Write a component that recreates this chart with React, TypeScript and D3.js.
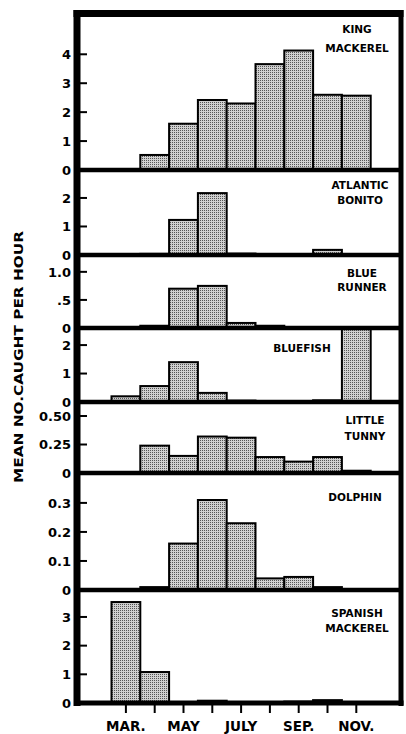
import React from "react";
import * as d3 from "d3";

// ---------- DATA ----------
const months = ["FEB", "MAR", "APR", "MAY", "JUN", "JUL", "AUG", "SEP", "OCT", "NOV", "DEC"];
const tickMonths = ["MAR", "APR", "MAY", "JUN", "JUL", "AUG", "SEP", "OCT", "NOV"];
const labeledMonths = ["MAR", "MAY", "JUL", "SEP", "NOV"];
const monthLabelText = ["MAR.", "MAY", "JULY", "SEP.", "NOV."];

const panelNames = [
  ["KING", "MACKEREL"],
  ["ATLANTIC", "BONITO"],
  ["BLUE", "RUNNER"],
  ["BLUEFISH"],
  ["LITTLE", "TUNNY"],
  ["DOLPHIN"],
  ["SPANISH", "MACKEREL"],
];

const kingMackerel = [0, 0, 0.52, 1.6, 2.42, 2.3, 3.66, 4.13, 2.6, 2.57, 0];
const atlanticBonito = [0, 0, 0.04, 1.23, 2.17, 0.05, 0.02, 0.02, 0.18, 0, 0];
const blueRunner = [0, 0, 0.04, 0.7, 0.75, 0.09, 0.04, 0, 0, 0, 0];
const bluefish = [0, 0.2, 0.56, 1.4, 0.32, 0.05, 0, 0, 0.06, 2.6, 0];
const littleTunny = [0, 0, 0.24, 0.15, 0.32, 0.31, 0.14, 0.1, 0.14, 0.02, 0];
const dolphin = [0, 0, 0.01, 0.16, 0.31, 0.23, 0.04, 0.045, 0.01, 0, 0];
const spanishMackerel = [0, 3.52, 1.08, 0, 0.08, 0, 0, 0.05, 0.1, 0, 0];

const seriesValues = [kingMackerel, atlanticBonito, blueRunner, bluefish, littleTunny, dolphin, spanishMackerel];

const yMaxes = [5.41, 2.98, 1.3, 2.6, 0.623, 0.403, 3.94];
const yTickValues = [
  [0, 1, 2, 3, 4],
  [0, 1, 2],
  [0, 0.5, 1.0],
  [0, 1, 2],
  [0, 0.25, 0.5],
  [0, 0.1, 0.2, 0.3],
  [0, 1, 2, 3],
];
const yTickLabels = [
  ["0", "1", "2", "3", "4"],
  ["0", "1", "2"],
  ["0", ".5", "1.0"],
  ["0", "1", "2"],
  ["0", "0.25", "0.50"],
  ["0", "0.1", "0.2", "0.3"],
  ["0", "1", "2", "3"],
];
const yAxisTitle = "MEAN NO.CAUGHT PER HOUR";

// ---------- LAYOUT ----------
const W = 406;
const H = 734;
const FRAME_LEFT = 77;
const FRAME_RIGHT = 401;
const boundaries = [13.5, 170, 255, 328, 402, 473, 590, 703];
const labelX = [357, 360, 362, 302, 365, 355, 357];
const labelFirstOffset = [19.5, 19, 22, 24, 22, 28, 27];
const labelLineGap = [19, 15, 14, 0, 16, 0, 15];
const FONT = "'DejaVu Sans', sans-serif";

export default function App() {
  const x = d3.scaleBand<string>().domain(months).range([82.7, 399.5]).padding(0);
  const bw = x.bandwidth();

  return (
    <svg
      width={W}
      height={H}
      style={{ position: "absolute", left: 0, top: 0, background: "#fff" }}
      fontFamily={FONT}
    >
      <defs>
        <pattern id="stipple" width={2} height={2} patternUnits="userSpaceOnUse">
          <rect width={2} height={2} fill="#d0d0d0" />
          <rect width={1} height={1} fill="#555" />
        </pattern>
      </defs>
      <rect width={W} height={H} fill="#fff" />

      {seriesValues.map((vals, i) => {
        const top = boundaries[i];
        const base = boundaries[i + 1];
        const y = d3.scaleLinear().domain([0, yMaxes[i]]).range([base, top]);
        return (
          <g key={i}>
            {vals.map((v, j) => {
              if (v <= 0) return null;
              const yy = Math.max(y(Math.min(v, yMaxes[i])), top);
              return (
                <rect
                  key={j}
                  x={x(months[j])}
                  y={yy}
                  width={bw}
                  height={base - yy}
                  fill="url(#stipple)"
                  stroke="#000"
                  strokeWidth={2}
                />
              );
            })}
            {yTickValues[i].map((t, k) => (
              <g key={k}>
                <line x1={80} x2={87} y1={y(t)} y2={y(t)} stroke="#000" strokeWidth={2} />
                <text
                  x={71}
                  y={y(t)}
                  dy="0.36em"
                  textAnchor="end"
                  fontSize={13}
                  fontWeight="bold"
                  fill="#000"
                >
                  {yTickLabels[i][k]}
                </text>
              </g>
            ))}
            {panelNames[i].map((ln, k) => (
              <text
                key={k}
                x={labelX[i]}
                y={top + labelFirstOffset[i] + k * labelLineGap[i]}
                textAnchor="middle"
                fontSize={10.5}
                fontWeight="bold"
                fill="#000"
              >
                {ln}
              </text>
            ))}
          </g>
        );
      })}

      {/* separators / frame */}
      {boundaries.slice(1, -1).map((b, i) => (
        <line key={i} x1={FRAME_LEFT} x2={FRAME_RIGHT} y1={b} y2={b} stroke="#000" strokeWidth={4.5} />
      ))}
      <line x1={FRAME_LEFT - 3.5} x2={FRAME_RIGHT + 2.5} y1={boundaries[0]} y2={boundaries[0]} stroke="#000" strokeWidth={7} />
      <line x1={FRAME_LEFT} x2={FRAME_LEFT} y1={10} y2={706} stroke="#000" strokeWidth={7} />
      <line x1={FRAME_RIGHT} x2={FRAME_RIGHT} y1={10} y2={706} stroke="#000" strokeWidth={5} />
      <line x1={FRAME_LEFT} x2={FRAME_RIGHT + 2.5} y1={boundaries[7]} y2={boundaries[7]} stroke="#000" strokeWidth={5} />

      {/* x axis ticks and labels */}
      {tickMonths.map((m) => {
        const cx = (x(m) as number) + bw / 2;
        return <line key={m} x1={cx} x2={cx} y1={705} y2={713} stroke="#000" strokeWidth={2} />;
      })}
      {labeledMonths.map((m, i) => {
        const cx = (x(m) as number) + bw / 2;
        return (
          <text key={m} x={cx} y={731} textAnchor="middle" fontSize={13.5} fontWeight="bold" fill="#000">
            {monthLabelText[i]}
          </text>
        );
      })}

      {/* y axis title */}
      <text
        transform="translate(23,357) rotate(-90)"
        textAnchor="middle"
        fontSize={13}
        fontWeight="bold"
        fill="#000"
        textLength={252}
        lengthAdjust="spacingAndGlyphs"
      >
        {yAxisTitle}
      </text>
    </svg>
  );
}
